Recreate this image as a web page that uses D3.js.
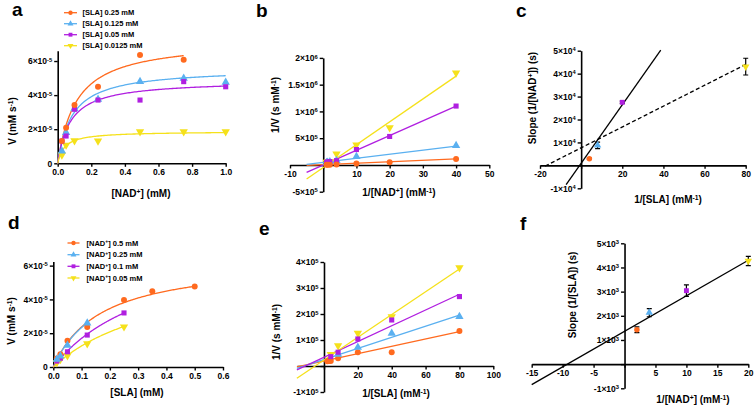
<!DOCTYPE html>
<html lang="en">
<head>
<meta charset="UTF-8">
<title>Kinetics panels</title>
<style>
  body { margin: 0; background: #fff; }
  text { font-family: "Liberation Sans", Arial, sans-serif; font-weight: bold; fill: #000; }
</style>
</head>
<body>
<script src="https://d3js.org/d3.v7.min.js"></script>
<script>
// colours for the four series (GraphPad style)
const colors = ['#ff6a1f', '#5ab0f0', '#b01fe0', '#f5e11b']
const shapes = ['circle', 'triangle', 'square', 'down']

// ---- panel a : V vs [NAD+] at four [SLA] (V in 1e-5 mM/s)
const aLegend = ['[SLA] 0.25 mM', '[SLA] 0.125 mM', '[SLA] 0.05 mM', '[SLA] 0.0125 mM']
const aNad = [0.025, 0.05, 0.1, 0.24, 0.49, 0.75, 1.0]
const aSla025 = [1.31, 2.09, 3.42, 4.49, 6.35, 6.08, null]
const aSla0125 = [0.72, 1.80, 3.20, 3.75, 4.79, 4.99, 4.75]
const aSla005 = [1.30, 1.60, 3.17, 3.71, 3.71, 4.79, 4.49]
const aSla00125 = [0.49, 1.07, 1.33, 1.31, 1.85, 1.85, 1.85]
// fitted Michaelis-Menten: [Vmax, Km, last x]
const aFits = [[7.25, 0.111, 0.75], [5.58, 0.0858, 1], [4.87, 0.075, 1], [1.874, 0.041, 1]]

// ---- panel b : 1/V vs 1/[NAD+] (1/V in 1e5)
const bX = [40, 20, 10, 4, 2, 1.33, 1]
const bOrange = [1.13, 0.50, 0.25, 0.08, 0.05, 0.04, 0.03]
const bBlue = [3.63, null, 1.56, 0.80, 0.60, 0.50, 0.45]
const bPurple = [11.0, 5.32, 2.88, 0.80, 0.62, 0.55, 0.50]
const bYellow = [17.2, 6.95, 3.76, 2.07, 0.60, 0.55, 0.50]
// line ends: [x0, y0, x1, y1]
const bLines = [[-5, -0.1, 40, 1.15], [-5, 0.1, 40, 3.5], [-5, -1.39, 40, 11.0], [-5, -2.63, 40, 16.6]]

// ---- panel c : slope vs 1/[SLA] (slope in 1e4)
const cX = [4, 8, 20, 80]
const cY = [0.29, 0.87, 2.75, 4.305]
const cErr = [0.03, 0.14, 0.05, 0.365]
const cSolid = [-7.3, -0.84, 38.7, 5.03]
const cDashed = [-17.5, -0.03, 80, 4.4]

// ---- panel d : V vs [SLA] at four [NAD+] (V in 1e-5)
const dLegend = ['[NAD^{+}] 0.5 mM', '[NAD^{+}] 0.25 mM', '[NAD^{+}] 0.1 mM', '[NAD^{+}] 0.05 mM']
const dSla = [0.0125, 0.025, 0.05, 0.12, 0.25, 0.35, 0.5]
const dNad05 = [0.50, 0.76, 1.56, 2.37, 3.96, 4.49, 4.76]
const dNad025 = [0.45, 0.65, 1.28, 2.60]
const dNad01 = [0.35, 0.52, 0.90, 1.89, 3.20]
const dNad005 = [0.25, 0.45, 0.67, 1.38, 2.38]
const dFits = [[6.4, 0.17, 0.5], [6.3, 0.17, 0.12], [7.8, 0.36, 0.25], [6.24, 0.4, 0.25]]

// ---- panel e : 1/V vs 1/[SLA] (1/V in 1e5)
const eX = [80, 40, 20, 8.33, 4, 2.86, 2]
const eOrange = [1.35, 0.53, 0.53, 0.30, 0.19, 0.19, 0.18]
const eBlue = [1.90, 1.26, 0.72, 0.45]
const ePurple = [2.67, 1.77, 1.04, 0.53, 0.36]
const eYellow = [3.78, 1.90, 1.26, 0.78, 0.45]
const eLines = [[-16, -0.03, 80, 1.32], [-16, -0.09, 80, 1.96], [-16, -0.15, 80, 2.76], [-16, -0.47, 80, 3.73]]

// ---- panel f : slope vs 1/[NAD+] (slope in 1e3)
const fX = [2, 4, 10, 20]
const fY = [1.42, 2.13, 3.04, 4.27]
const fErr = [0.12, 0.17, 0.24, 0.19]
const fLine = [-15, -0.85, 20, 4.3]

// ticks
const aXTicks = [0, 0.2, 0.4, 0.6, 0.8, 1.0]
const aYTicks = [0, 2, 4, 6]
const aYLabels = ['0', '2×10^{-5}', '4×10^{-5}', '6×10^{-5}']
const bXTicks = [-10, 0, 10, 20, 30, 40, 50]
const bYTicks = [-5, 0, 5, 10, 15, 20]
const bYLabels = ['-5×10^{5}', '', '5×10^{5}', '1×10^{6}', '1.5×10^{6}', '2×10^{6}']
const cXTicks = [-20, 0, 20, 40, 60, 80]
const cYTicks = [-1, 0, 1, 2, 3, 4, 5]
const cYLabels = ['-1×10^{4}', '', '1×10^{4}', '2×10^{4}', '3×10^{4}', '4×10^{4}', '5×10^{4}']
const dXTicks = [0, 0.1, 0.2, 0.3, 0.4, 0.5, 0.6]
const dYTicks = [0, 2, 4, 6]
const eXTicks = [0, 20, 40, 60, 80, 100]
const eYTicks = [-1, 0, 1, 2, 3, 4]
const eYLabels = ['-1×10^{5}', '', '1×10^{5}', '2×10^{5}', '3×10^{5}', '4×10^{5}']
const fXTicks = [-15, -10, -5, 0, 5, 10, 15, 20]
const fYTicks = [-1, 0, 1, 2, 3, 4, 5]
const fYLabels = ['-1×10^{3}', '', '1×10^{3}', '2×10^{3}', '3×10^{3}', '4×10^{3}', '5×10^{3}']

const svg = d3.select('body').append('svg')
  .attr('width', 756).attr('height', 408)

// write text with ^{..} superscripts as tspans
function rich(sel, str) {
  sel.text(null)
  const parts = str.split(/\^\{([^}]*)\}/)
  let up = false
  parts.forEach((p, i) => {
    if (i % 2 === 1) {
      sel.append('tspan').attr('dy', '-0.42em').attr('font-size', '0.68em').text(p)
      up = true
    } else if (p) {
      const t = sel.append('tspan').text(p)
      if (up) { t.attr('dy', '0.29em'); up = false }
    }
  })
}

function symbolPath(shape, size) {
  if (shape === 'circle') return d3.symbol(d3.symbolCircle, size)()
  if (shape === 'square') return d3.symbol(d3.symbolSquare, size)()
  return d3.symbol(d3.symbolTriangle, size)()
}

function marker(g, x, y, i, size) {
  g.append('path')
    .attr('d', symbolPath(shapes[i], size))
    .attr('transform', `translate(${x},${y})` + (shapes[i] === 'down' ? ' rotate(180)' : ''))
    .attr('fill', colors[i])
}

function makePanel(p) {
  const x = d3.scaleLinear().domain(p.xd).range(p.xr)
  const y = d3.scaleLinear().domain(p.yd).range(p.yr)
  const g = svg.append('g')

  const xa = d3.axisBottom(x).tickValues(p.xt).tickSize(3.5).tickSizeOuter(0).tickPadding(2.5)
    .tickFormat((d, i) => p.xl[i])
  const ya = d3.axisLeft(y).tickValues(p.yt).tickSize(3.5).tickSizeOuter(0).tickPadding(2)
    .tickFormat((d, i) => p.yl[i])

  const gx = g.append('g').attr('transform', `translate(0,${y(0)})`).call(xa)
  const gy = g.append('g').attr('transform', `translate(${x(0)},0)`).call(ya)
  for (const ax of [gx, gy]) {
    ax.attr('font-family', null)
    ax.select('.domain').attr('stroke', '#000').attr('stroke-width', 1.6)
    ax.selectAll('.tick line').attr('stroke', '#000').attr('stroke-width', 1.4)
    ax.selectAll('.tick text').attr('font-size', 8.5)
      .each(function (d, i) { rich(d3.select(this), (ax === gx ? p.xl : p.yl)[i]) })
  }

  // axis titles
  rich(g.append('text').attr('x', p.xTitle[0]).attr('y', p.xTitle[1])
    .attr('text-anchor', 'middle').attr('font-size', 10), p.xTitle[2])
  rich(g.append('text').attr('transform', `translate(${p.yTitle[0]},${p.yTitle[1]}) rotate(-90)`)
    .attr('text-anchor', 'middle').attr('font-size', 10), p.yTitle[2])

  // panel letter
  g.append('text').attr('x', p.letter[0]).attr('y', p.letter[1])
    .attr('font-size', 19).text(p.letter[2])

  return { g, x, y }
}

function mmCurve(P, fit, color) {
  const [vm, km, xmax] = fit
  const xs = d3.range(0, xmax, xmax / 120).concat([xmax])
  P.g.append('path')
    .attr('d', d3.line().x(d => P.x(d)).y(d => P.y(vm * d / (km + d)))(xs))
    .attr('fill', 'none').attr('stroke', color).attr('stroke-width', 1.3)
}

function segment(P, s, color, dash) {
  P.g.append('line')
    .attr('x1', P.x(s[0])).attr('y1', P.y(s[1]))
    .attr('x2', P.x(s[2])).attr('y2', P.y(s[3]))
    .attr('stroke', color).attr('stroke-width', 1.3)
    .attr('stroke-dasharray', dash || null)
}

function points(P, xs, ys, i) {
  xs.forEach((xv, k) => {
    if (ys[k] == null || k >= ys.length) return
    marker(P.g, P.x(xv), P.y(ys[k]), i, shapes[i] === 'circle' ? 28 : shapes[i] === 'square' ? 26 : 30)
  })
}

function errorBars(P, xs, ys, es) {
  xs.forEach((xv, k) => {
    const cx = P.x(xv)
    const t = P.y(ys[k] + es[k]), b = P.y(ys[k] - es[k])
    P.g.append('path')
      .attr('d', `M${cx - 2.5},${t}H${cx + 2.5}M${cx},${t}V${b}M${cx - 2.5},${b}H${cx + 2.5}`)
      .attr('stroke', '#000').attr('stroke-width', 1.2).attr('fill', 'none')
  })
}

function legend(labels, xLine, xText, rows) {
  labels.forEach((lab, i) => {
    svg.append('line').attr('x1', xLine[0]).attr('x2', xLine[1])
      .attr('y1', rows[i]).attr('y2', rows[i])
      .attr('stroke', colors[i]).attr('stroke-width', 1.3)
    marker(svg, (xLine[0] + xLine[1]) / 2, rows[i], i, 15)
    rich(svg.append('text').attr('x', xText).attr('y', rows[i]).attr('dy', '0.35em')
      .attr('font-size', 7.5), lab)
  })
}

// ---------- panel a
const A = makePanel({
  xd: [0, 1], xr: [57.7, 225.7], yd: [0, 6.6], yr: [163.3, 50.8],
  xt: aXTicks, xl: aXTicks.map(d => d.toFixed(1)), yt: aYTicks, yl: aYLabels,
  xTitle: [141, 197, '[NAD^{+}] (mM)'], yTitle: [15.5, 121, 'V (mM s^{-1})'], letter: [12, 16, 'a']
})
aFits.forEach((f, i) => mmCurve(A, f, colors[i]))
const aSeries = [aSla025, aSla0125, aSla005, aSla00125]
;[3, 1, 2, 0].forEach(i => points(A, aNad, aSeries[i], i))
legend(aLegend, [64, 77], 82.5, [12.7, 23.7, 34.7, 45.7])

// ---------- panel b
const B = makePanel({
  xd: [-10, 50], xr: [290, 489.3], yd: [-5, 20], yr: [191.7, 57.9],
  xt: bXTicks, xl: bXTicks.map(d => d === 0 ? '' : String(d)), yt: bYTicks, yl: bYLabels,
  xTitle: [399, 196, '1/[NAD^{+}] (mM^{-1})'], yTitle: [279, 105, '1/V (s mM^{-1})'], letter: [256, 17, 'b']
})
bLines.forEach((s, i) => segment(B, s, colors[i]))
const bSeries = [bOrange, bBlue, bPurple, bYellow]
;[3, 1, 2, 0].forEach(i => points(B, bX, bSeries[i], i))

// ---------- panel c
const C = makePanel({
  xd: [-20, 80], xr: [540, 745.7], yd: [-1, 5], yr: [188.3, 50.7],
  xt: cXTicks, xl: cXTicks.map(d => d === 0 ? '' : String(d)), yt: cYTicks, yl: cYLabels,
  xTitle: [668, 203, '1/[SLA] (mM^{-1})'], yTitle: [535.5, 98, 'Slope (1/[NAD^{+}]) (s)'], letter: [516, 17, 'c']
})
segment(C, cSolid, '#000')
segment(C, cDashed, '#000', '4,2.5')
errorBars(C, cX, cY, cErr)
cX.forEach((xv, k) => marker(C.g, C.x(xv), C.y(cY[k]), k, 24))

// ---------- panel d
const D = makePanel({
  xd: [0, 0.6], xr: [53.3, 223], yd: [0, 6.25], yr: [367, 261.4],
  xt: dXTicks, xl: dXTicks.map(d => d.toFixed(1)), yt: dYTicks, yl: aYLabels,
  xTitle: [137, 396, '[SLA] (mM)'], yTitle: [15, 321, 'V (mM s^{-1})'], letter: [8, 229, 'd']
})
dFits.forEach((f, i) => mmCurve(D, f, colors[i]))
const dSeries = [dNad05, dNad025, dNad01, dNad005]
;[3, 2, 0, 1].forEach(i => points(D, dSla, dSeries[i], i))
legend(dLegend, [67.5, 79.5], 86.5, [243, 254.7, 266.3, 278])

// ---------- panel e
const E = makePanel({
  xd: [-16, 100], xr: [296.9, 493.3], yd: [-1, 4], yr: [392, 262],
  xt: eXTicks, xl: eXTicks.map(d => d === 0 ? '' : String(d)), yt: eYTicks, yl: eYLabels,
  xTitle: [396, 397, '1/[SLA] (mM^{-1})'], yTitle: [280, 332, '1/V (s mM^{-1})'], letter: [259, 235, 'e']
})
eLines.forEach((s, i) => segment(E, s, colors[i]))
const eSeries = [eOrange, eBlue, ePurple, eYellow]
;[0, 1, 3, 2].forEach(i => points(E, eX, eSeries[i], i))

// ---------- panel f
const F = makePanel({
  xd: [-15, 20], xr: [531.7, 748.3], yd: [-1, 5], yr: [388.3, 243.3],
  xt: fXTicks, xl: fXTicks.map(d => d === 0 ? '' : String(d)), yt: fYTicks, yl: fYLabels,
  xTitle: [693, 403, '1/[NAD^{+}] (mM^{-1})'], yTitle: [575.5, 295, 'Slope (1/[SLA]) (s)'], letter: [520, 230, 'f']
})
segment(F, fLine, '#000')
errorBars(F, fX, fY, fErr)
fX.forEach((xv, k) => marker(F.g, F.x(xv), F.y(fY[k]), k, 24))
</script>
</body>
</html>
